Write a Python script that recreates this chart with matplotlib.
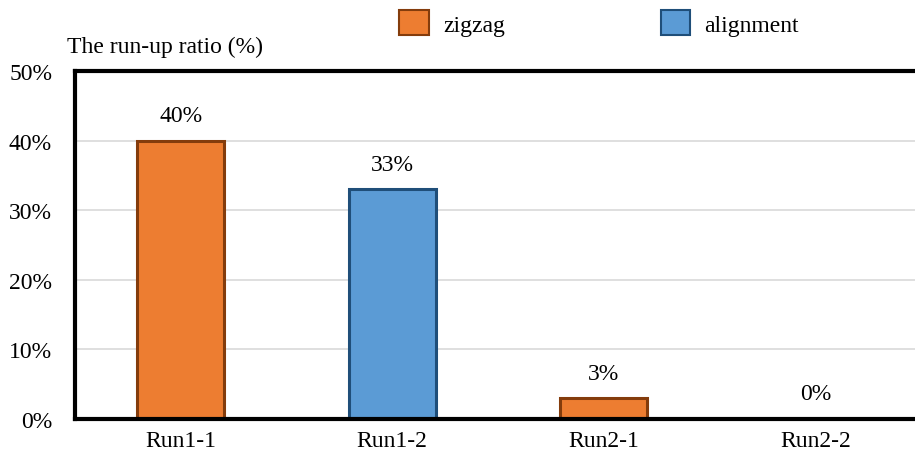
import matplotlib.pyplot as plt
from matplotlib.patches import Patch
from matplotlib.ticker import FuncFormatter

# data
runs = ["Run1-1", "Run1-2", "Run2-1", "Run2-2"]
ratio = [40, 33, 3, 0]
pattern = ["zigzag", "alignment", "zigzag", "alignment"]
y_ticks = [0, 10, 20, 30, 40, 50]

FILL = {"zigzag": "#ED7D31", "alignment": "#5B9BD5"}
EDGE = {"zigzag": "#843C0C", "alignment": "#1F4E79"}

plt.rcParams.update({
    "font.family": ["Liberation Serif", "DejaVu Serif"],
    "font.size": 17,
})

fig = plt.figure(figsize=(9.15, 4.64), dpi=100)
W, H = 915, 464
ax = fig.add_axes([75 / W, 1 - 420 / H, 846 / W, 348 / H])

x = list(range(len(runs)))
ax.bar(x, ratio, width=0.41,
       color=[FILL[p] for p in pattern],
       edgecolor=[EDGE[p] for p in pattern],
       linewidth=2.2, zorder=2)

for xi, v in zip(x, ratio):
    ax.annotate(f"{v}%", (xi, v), xytext=(0, 18), textcoords="offset points",
                ha="center", va="center", fontsize=17)

ax.set_xlim(-0.5, 3.5)
ax.set_ylim(0, 50)
ax.set_yticks(y_ticks)
ax.yaxis.set_major_formatter(FuncFormatter(lambda v, p: f"{v:.0f}%"))
ax.set_xticks(x)
ax.set_xticklabels(runs)
ax.tick_params(axis="both", length=0, labelsize=17)
ax.tick_params(axis="y", pad=16.5)
ax.tick_params(axis="x", pad=8)
ax.grid(axis="y", color="#D9D9D9", linewidth=1.2, zorder=0)
ax.set_axisbelow(True)
for s in ax.spines.values():
    s.set_linewidth(3)
    s.set_color("black")

fig.text(67 / W, 1 - 47 / H, "The run-up ratio (%)", ha="left", va="center", fontsize=17)

handles = [Patch(facecolor=FILL[k], edgecolor=EDGE[k], linewidth=1.5) for k in ["zigzag", "alignment"]]
fig.legend(handles, ["zigzag", "alignment"], loc="center", bbox_to_anchor=(599 / W, 1 - 24 / H),
           ncol=2, frameon=False, handlelength=1.25, handleheight=1.2, columnspacing=6.6,
           handletextpad=0.6, fontsize=17)

fig.savefig("out.png", dpi=100)
